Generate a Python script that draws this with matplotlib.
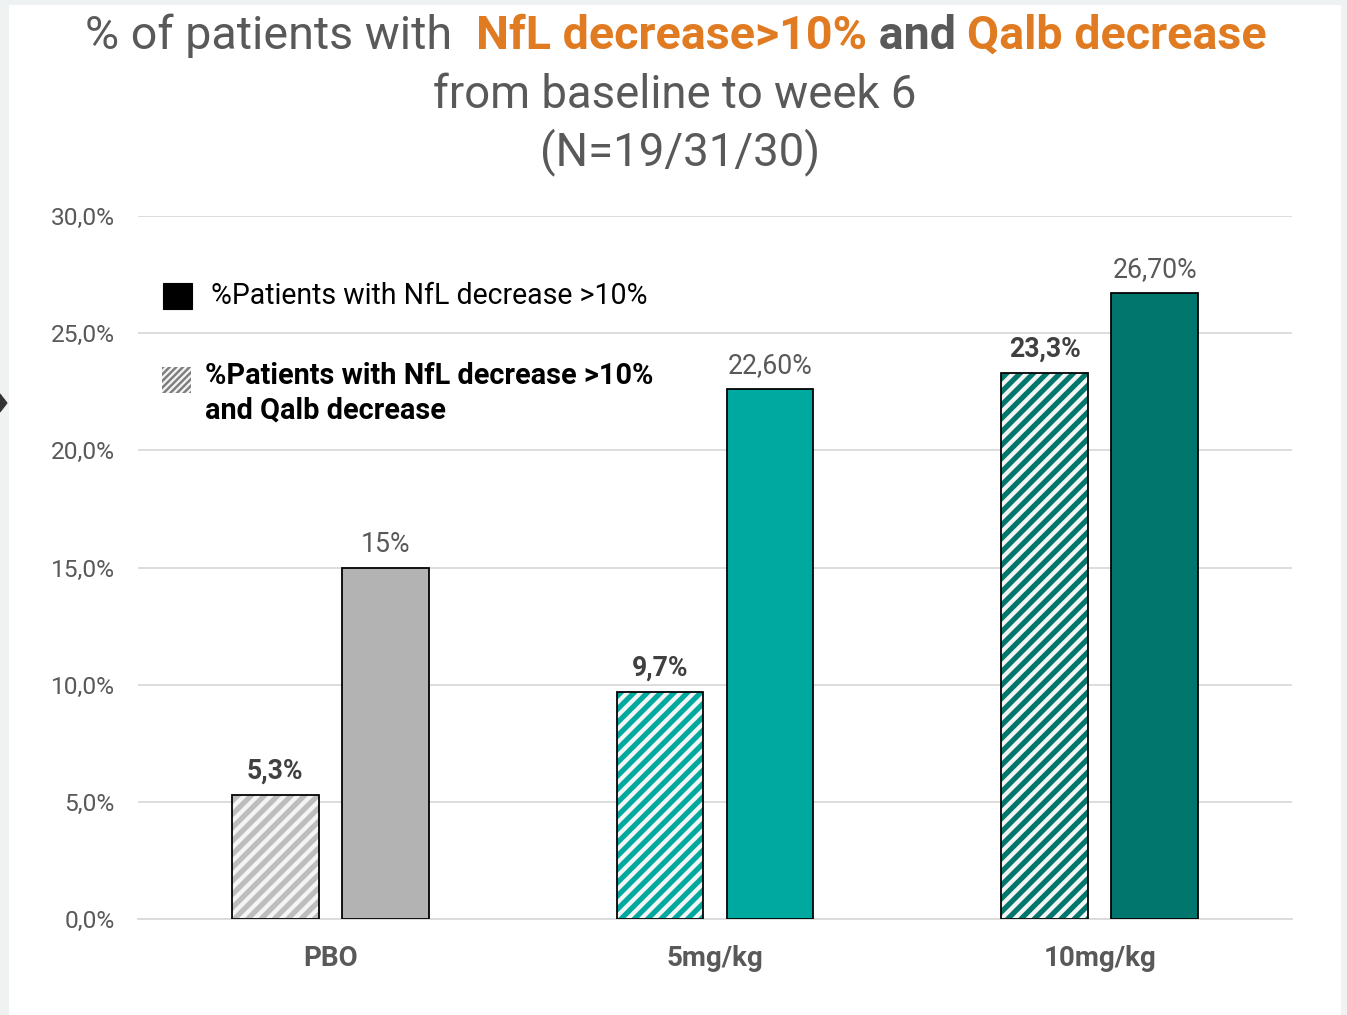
import matplotlib
matplotlib.use("Agg")
import matplotlib.pyplot as plt
from matplotlib.patches import Rectangle, Polygon

plt.rcParams['font.family'] = ['Roboto', 'DejaVu Sans']
plt.rcParams['hatch.linewidth'] = 3.8

# data
groups = ['PBO', '5mg/kg', '10mg/kg']
nfl_qalb = [5.3, 9.7, 23.3]
nfl_only = [15.0, 22.6, 26.7]
nfl_qalb_labels = ['5,3%', '9,7%', '23,3%']
nfl_only_labels = ['15%', '22,60%', '26,70%']
yticks = [0, 5, 10, 15, 20, 25, 30]
ytick_labels = ['0,0%', '5,0%', '10,0%', '15,0%', '20,0%', '25,0%', '30,0%']

hatch_colors = ['#BDBDBD', '#00A9A0', '#00766C']
solid_colors = ['#B3B3B3', '#00A9A0', '#00766C']

W, H, DPI = 1347, 1015, 80
fig = plt.figure(figsize=(W / DPI, H / DPI), dpi=DPI)

def fx(px):
    return px / W

def fy(py):
    return 1 - py / H

# slide frame
fig.patches.append(Rectangle((0, 0), fx(8), 1, transform=fig.transFigure,
                             color='#F0F2F2', zorder=0))
fig.patches.append(Rectangle((fx(1341), 0), fx(6), 1, transform=fig.transFigure,
                             color='#F0F2F2', zorder=0))
fig.patches.append(Rectangle((0, fy(4)), 1, 4 / H, transform=fig.transFigure,
                             color='#EEF2F2', zorder=0))
fig.patches.append(Polygon([(0, fy(394)), (fx(7), fy(403)), (0, fy(412))],
                           closed=True, transform=fig.transFigure, color='#333333'))

ax = fig.add_axes([fx(138), fy(919), fx(1292) - fx(138), fy(216) - fy(919)])
x = list(range(len(groups)))
off = 0.143
bw = 0.226

xh = [i - off for i in x]
xs = [i + off for i in x]
ax.bar(xh, nfl_qalb, width=bw, color=hatch_colors, edgecolor='#F4F4F4',
       hatch='//', linewidth=0, zorder=2)
ax.bar(xh, nfl_qalb, width=bw, fill=False, edgecolor='black', linewidth=1.6, zorder=3)
ax.bar(xs, nfl_only, width=bw, color=solid_colors, edgecolor='black',
       linewidth=1.6, zorder=3)

for xi, v, lab in zip(xh, nfl_qalb, nfl_qalb_labels):
    ax.annotate(lab, (xi, v), xytext=(0, 9), textcoords='offset points',
                ha='center', va='bottom', fontsize=24, fontweight='bold', color='#404040')
for xi, v, lab in zip(xs, nfl_only, nfl_only_labels):
    ax.annotate(lab, (xi, v), xytext=(0, 9), textcoords='offset points',
                ha='center', va='bottom', fontsize=24, color='#595959')

ax.set_xlim(-0.5, 2.5)
ax.set_ylim(0, 30)
ax.set_yticks(yticks)
ax.set_yticklabels(ytick_labels)
ax.set_xticks(x)
ax.set_xticklabels(groups, fontweight='bold', fontsize=25, color='#595959')
ax.tick_params(axis='y', length=0, pad=21, labelsize=22, labelcolor='#595959')
ax.tick_params(axis='x', length=0, pad=23)
ax.grid(axis='y', color='#D9D9D9', linewidth=1.6, zorder=0)
ax.set_axisbelow(True)
for s in ['top', 'right', 'left']:
    ax.spines[s].set_visible(False)
ax.spines['bottom'].set_color('#D9D9D9')
ax.spines['bottom'].set_linewidth(1.6)

# legend
fig.patches.append(Rectangle((fx(163), fy(309)), fx(192) - fx(163), fy(283) - fy(309),
                             transform=fig.transFigure, color='black', zorder=5))
fig.text(fx(211), fy(296), '%Patients with NfL decrease >10%', fontsize=25.7,
         color='black', va='center', ha='left')
with plt.rc_context({'hatch.linewidth': 2.0}):
    hp = Rectangle((fx(162), fy(393)), fx(191) - fx(162), fy(367) - fy(393),
                   transform=fig.transFigure, facecolor='#7F7F7F', edgecolor='#F4F4F4',
                   hatch='////', linewidth=0, zorder=5)
fig.patches.append(hp)
fig.text(fx(205), fy(376), '%Patients with NfL decrease >10%', fontsize=26,
         fontweight='bold', color='black', va='center', ha='left')
fig.text(fx(205), fy(411), 'and Qalb decrease', fontsize=26,
         fontweight='bold', color='black', va='center', ha='left')

# title
grey = '#595959'
orange = '#E07B22'
parts = [('% of patients with  ', grey, 'normal'),
         ('NfL decrease>10%', orange, 'bold'),
         (' and ', grey, 'bold'),
         ('Qalb decrease', orange, 'bold')]
texts = []
for s, c, w in parts:
    texts.append(fig.text(0, fy(36), s, fontsize=42, color=c, fontweight=w,
                          va='center', ha='left'))
r = fig.canvas.get_renderer()
widths = [t.get_window_extent(r).width for t in texts]
start = 676 - sum(widths) / 2
for t, wd in zip(texts, widths):
    t.set_x(fx(start))
    start += wd
fig.text(fx(675), fy(95), 'from baseline to week 6', fontsize=41, color=grey,
         ha='center', va='center')
fig.text(fx(680), fy(152), '(N=19/31/30)', fontsize=41, color=grey,
         ha='center', va='center')

fig.savefig('out.png', dpi=DPI)
